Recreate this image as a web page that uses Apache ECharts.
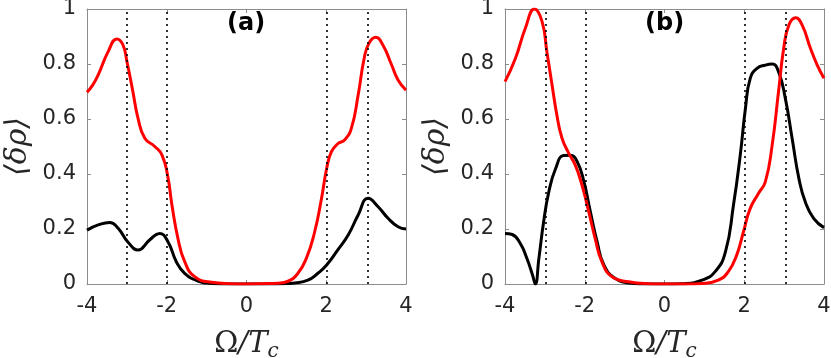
<!DOCTYPE html>
<html>
<head>
<meta charset="utf-8">
<script src="https://cdn.jsdelivr.net/npm/echarts@6/dist/echarts.min.js"></script>
<style>
html,body{margin:0;padding:0;background:#fff;}
#chart{width:831px;height:358px;}
</style>
</head>
<body>
<div id="chart"></div>
<script>
// ---- Panel (a) ----
const aRedX = [-4, -3.85, -3.72, -3.47, -3.25, -3.10, -3.0, -2.85, -2.72, -2.55, -2.30, -2.12, -1.98, -1.87, -1.72, -1.55, -1.30, -0.88, -0.4, 0, 0.4, 0.79, 1.04, 1.29, 1.50, 1.71, 1.88, 2.01, 2.13, 2.29, 2.46, 2.63, 2.80, 2.95, 3.07, 3.24, 3.42, 3.63, 3.80, 4.0];
const aRedY = [0.697, 0.725, 0.76, 0.845, 0.891, 0.87, 0.81, 0.70, 0.602, 0.53, 0.50, 0.469, 0.396, 0.287, 0.166, 0.081, 0.027, 0.006, 0.001, 0, 0.001, 0.003, 0.01, 0.039, 0.093, 0.19, 0.31, 0.42, 0.481, 0.51, 0.524, 0.566, 0.687, 0.82, 0.875, 0.897, 0.869, 0.80, 0.742, 0.705];
const aBlackX = [-4, -3.72, -3.43, -3.22, -2.97, -2.72, -2.43, -2.18, -1.97, -1.76, -1.55, -1.22, -0.85, -0.4, 0, 0.5, 0.9, 1.21, 1.54, 1.79, 2.01, 2.29, 2.55, 2.80, 3.05, 3.30, 3.55, 3.80, 4.0];
const aBlackY = [0.196, 0.215, 0.224, 0.2025, 0.152, 0.124, 0.16, 0.184, 0.154, 0.081, 0.039, 0.011, 0.002, 0, 0, 0, 0.001, 0.004, 0.014, 0.039, 0.069, 0.124, 0.178, 0.251, 0.312, 0.281, 0.239, 0.208, 0.20];
const aDotted = [-3, -2, 2, 3.04];

// ---- Panel (b) ----
const bRedX = [-4, -3.74, -3.49, -3.26, -3.07, -2.95, -2.82, -2.70, -2.57, -2.40, -2.24, -2.07, -1.90, -1.74, -1.57, -1.32, -0.9, -0.4, 0, 0.5, 0.94, 1.35, 1.60, 1.81, 1.98, 2.15, 2.36, 2.53, 2.70, 2.86, 2.99, 3.12, 3.29, 3.45, 3.66, 3.83, 4.0];
const bRedY = [0.736, 0.82, 0.93, 1.0, 0.954, 0.845, 0.724, 0.615, 0.53, 0.475, 0.433, 0.36, 0.263, 0.166, 0.081, 0.027, 0.008, 0.001, 0, 0, 0.002, 0.014, 0.045, 0.105, 0.19, 0.275, 0.33, 0.372, 0.505, 0.70, 0.857, 0.942, 0.968, 0.942, 0.857, 0.796, 0.748];
const bBlackX = [-4, -3.82, -3.62, -3.45, -3.31, -3.24, -3.15, -3.03, -2.90, -2.73, -2.53, -2.36, -2.19, -2.02, -1.86, -1.69, -1.52, -1.23, -0.83, -0.4, 0, 0.44, 0.94, 1.27, 1.53, 1.73, 1.90, 2.03, 2.15, 2.32, 2.53, 2.70, 2.86, 3.03, 3.20, 3.37, 3.53, 3.74, 4.0];
const bBlackY = [0.184, 0.18, 0.148, 0.093, 0.033, 0, 0.093, 0.227, 0.336, 0.42, 0.467, 0.468, 0.445, 0.372, 0.263, 0.154, 0.069, 0.02, 0.003, 0, 0, 0.001, 0.014, 0.045, 0.118, 0.287, 0.469, 0.639, 0.748, 0.784, 0.796, 0.80, 0.772, 0.675, 0.53, 0.384, 0.299, 0.239, 0.205];
const bDotted = [-2.98, -1.98, 2.0, 3.04];

const panelLabels = ['(a)', '(b)'];
const xNameOmega = 'Ω';
const xNameRest = '/T';
const xSub = 'c';
const yName = '⟨δρ⟩';

const zip = (xs, ys) => xs.map((x, i) => [x, ys[i]]);

const AX = '#8c8c8c';
const TXT = '#262626';
const tickFont = 'DejaVu Sans';

function xAxes(grid) {
  return [{
    type: 'value', gridIndex: grid, min: -4, max: 4, interval: 2, position: 'bottom',
    axisLine: {show: true, onZero: false, lineStyle: {color: AX, width: 1}},
    axisTick: {show: true, inside: true, length: 4, lineStyle: {color: AX}},
    axisLabel: {show: true, margin: 12, color: TXT, fontFamily: tickFont, fontSize: 21},
    splitLine: {show: false},
    name: '{o|' + xNameOmega + '}{t|' + xNameRest + '}{c|' + xSub + '}',
    nameLocation: 'middle', nameGap: 42,
    nameTextStyle: {
      rich: {
        o: {fontFamily: 'DejaVu Serif', fontSize: 29, color: TXT, lineHeight: 36},
        t: {fontFamily: 'DejaVu Serif', fontStyle: 'italic', fontSize: 29, color: TXT, lineHeight: 36},
        c: {fontFamily: 'DejaVu Serif', fontStyle: 'italic', fontSize: 20, color: TXT, lineHeight: 20, verticalAlign: 'bottom'}
      }
    }
  }, {
    type: 'value', gridIndex: grid, min: -4, max: 4, interval: 2, position: 'top',
    axisLine: {show: true, onZero: false, lineStyle: {color: AX, width: 1}},
    axisTick: {show: true, inside: true, length: 4, lineStyle: {color: AX}},
    axisLabel: {show: false}, splitLine: {show: false}
  }];
}
function yAxes(grid) {
  return [{
    type: 'value', gridIndex: grid, min: 0, max: 1, interval: 0.2, position: 'left',
    axisLine: {show: true, onZero: false, lineStyle: {color: AX, width: 1}},
    axisTick: {show: true, inside: true, length: 4, lineStyle: {color: AX}},
    axisLabel: {show: true, margin: 11, color: TXT, fontFamily: tickFont, fontSize: 21,
      formatter: v => String(+v.toFixed(1))},
    splitLine: {show: false},
    name: yName, nameLocation: 'middle', nameRotate: 90, nameGap: 54,
    nameTextStyle: {fontFamily: 'DejaVu Serif', fontStyle: 'italic', fontSize: 30, color: TXT}
  }, {
    type: 'value', gridIndex: grid, min: 0, max: 1, interval: 0.2, position: 'right',
    axisLine: {show: true, onZero: false, lineStyle: {color: AX, width: 1}},
    axisTick: {show: true, inside: true, length: 4, lineStyle: {color: AX}},
    axisLabel: {show: false}, splitLine: {show: false}
  }];
}

function lineSeries(xi, yi, data, color, z) {
  return {
    type: 'line', xAxisIndex: xi, yAxisIndex: yi, data: data,
    smooth: 0.5, showSymbol: false, symbol: 'none',
    lineStyle: {color: color, width: 3}, z: z, silent: true, animation: false
  };
}
function dotted(xi, yi, xs) {
  return {
    type: 'line', xAxisIndex: xi, yAxisIndex: yi, data: [], z: 10, silent: true,
    markLine: {
      symbol: 'none', silent: true, animation: false,
      label: {show: false},
      lineStyle: {color: '#000', type: [2, 4], width: 1.6},
      data: xs.map(x => ({xAxis: x}))
    }
  };
}

const chart = echarts.init(document.getElementById('chart'), null, {renderer: 'canvas'});
chart.setOption({
  animation: false,
  backgroundColor: '#fff',
  grid: [
    {left: 87, top: 9, width: 319, height: 275, containLabel: false, outerBoundsMode: 'none'},
    {left: 505, top: 9, width: 319, height: 275, containLabel: false, outerBoundsMode: 'none'}
  ],
  xAxis: [...xAxes(0), ...xAxes(1)],
  yAxis: [...yAxes(0), ...yAxes(1)],
  series: [
    lineSeries(0, 0, zip(aBlackX, aBlackY), '#000', 3),
    lineSeries(0, 0, zip(aRedX, aRedY), '#ff0000', 4),
    dotted(0, 0, aDotted),
    lineSeries(2, 2, zip(bBlackX, bBlackY), '#000', 3),
    lineSeries(2, 2, zip(bRedX, bRedY), '#ff0000', 4),
    dotted(2, 2, bDotted)
  ],
  graphic: [
    {type: 'text', left: 246 - 19, top: 12, style: {text: panelLabels[0], fontFamily: 'DejaVu Sans', fontWeight: 'bold', fontSize: 24, fill: '#000'}},
    {type: 'text', left: 664 - 19, top: 12, style: {text: panelLabels[1], fontFamily: 'DejaVu Sans', fontWeight: 'bold', fontSize: 24, fill: '#000'}}
  ]
});
</script>
</body>
</html>
